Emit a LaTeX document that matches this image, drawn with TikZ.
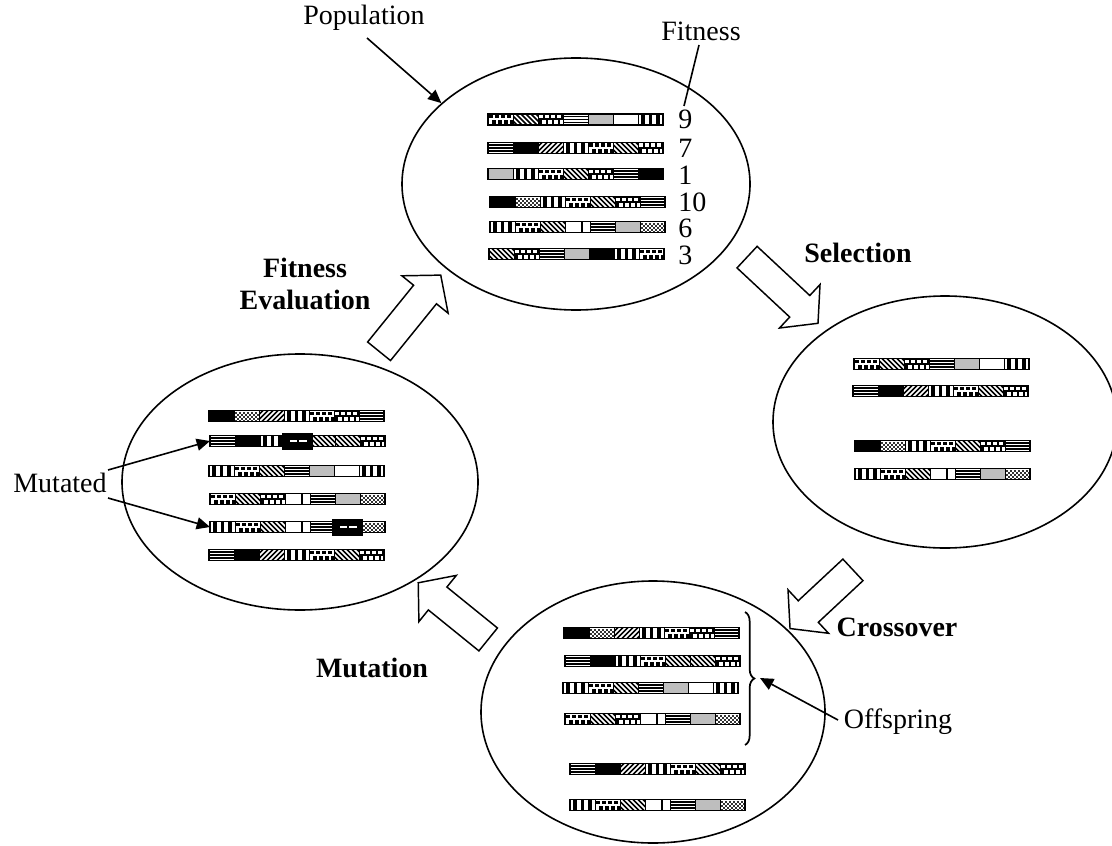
\documentclass[tikz,border=0pt]{standalone}
\usepackage{fontspec}
\setmainfont{Liberation Serif}
\usetikzlibrary{shapes.geometric,shapes.arrows,arrows.meta,decorations.pathreplacing}
\definecolor{segGray}{RGB}{190,190,190}
% segment drawings, local frame: x 0..25, y -5.5..5.5
\newcommand\segB{\fill[black] (0,-5.5) rectangle (25,5.5);}
\newcommand\segW{\fill[white] (0,-5.5) rectangle (25,5.5);}
\newcommand\segG{\fill[segGray] (0,-5.5) rectangle (25,5.5);}
\newcommand\segH{\fill[white] (0,-5.5) rectangle (25,5.5);
  \foreach \yy in {-3,0,3} \draw[line width=0.9pt] (0,\yy) -- (25,\yy);}
\newcommand\segV{\fill[white] (0,-5.5) rectangle (25,5.5);
  \foreach \xx in {3,10.5,18} \fill (\xx,-5.5) rectangle ++(3.5,11);}
\newcommand\segD{\fill[white] (0,-5.5) rectangle (25,5.5);
  \begin{scope}\clip (0,-5.5) rectangle (25,5.5);
  \foreach \xx in {-12,-7,...,28} \draw[line width=1.3pt] (\xx,-5.5) -- ++(11,11);
  \end{scope}}
\newcommand\segE{\fill[white] (0,-5.5) rectangle (25,5.5);
  \begin{scope}\clip (0,-5.5) rectangle (25,5.5);
  \foreach \xx in {-12,-7,...,28} \draw[line width=1.3pt] (\xx,5.5) -- ++(11,-11);
  \end{scope}}
\newcommand\segA{\fill[white] (0,-5.5) rectangle (25,5.5);
  \foreach \xx in {1,7,13,19} {\fill (\xx,-4.5) rectangle ++(3.5,3.5); \fill ({\xx+3},1) rectangle ++(3.5,3.5);}}
\newcommand\segP{\fill[black] (0,-5.5) rectangle (25,5.5);
  \foreach \xx in {1,7,13,19} {\fill[white] (\xx,-4.5) rectangle ++(3.5,3.5); \fill[white] ({\xx+3},1) rectangle ++(3.5,3.5);}}
\newcommand\segC{\fill[white] (0,-5.5) rectangle (25,5.5);
  \foreach \ii in {0,4,...,20} {\foreach \jj in {-4.5,-0.5,3.5} \fill[black!80] (\ii+1,\jj) rectangle ++(2,2);}
  \foreach \ii in {2,6,...,22} {\foreach \jj in {-2.5,1.5} \fill[black!80] (\ii+1,\jj) rectangle ++(2,2);}}
\newcommand\segN{\fill[white] (0,-5.5) rectangle (25,5.5); \fill (16,-5.5) rectangle ++(2.2,11);}
% chromosome: name, left x, centre y, list of segments
\newcommand\chrom[4]{%
  \node[chromnode] (#1) at (#2,#3) {};
  \foreach \t [count=\k from 0] in {#4} {
    \begin{scope}[shift={({#2+\k*25},#3)}]
      \csname seg\t\endcsname
      \draw[line width=0.6pt] (0,-5.5) rectangle (25,5.5);
    \end{scope}}
  \draw[line width=1.1pt] ({#2},{#3-5.5}) rectangle ++(175,11);}
% mutation marker over a segment starting at x, centre y
\newcommand\mutbox[2]{%
  \fill[black] ({#1-3},{#2-8.5}) rectangle ++(31,17);
  \fill[white] ({#1+5},{#2-0.8}) rectangle ++(7,1.6);
  \fill[white] ({#1+14},{#2-0.8}) rectangle ++(8,1.6);}
\begin{document}
\begin{tikzpicture}[x=0.75pt,y=-0.75pt,
  lbl/.style={font=\fontsize{21}{24}\selectfont, inner sep=0pt},
  blbl/.style={font=\fontsize{21}{24}\selectfont\bfseries, inner sep=0pt, align=center},
  numlbl/.style={font=\fontsize{21}{23}\selectfont, inner sep=0pt, anchor=west},
  chromnode/.style={anchor=west, minimum width=175*0.75pt, minimum height=11*0.75pt, inner sep=0pt},
  oval/.style={draw, ellipse, line width=1.2pt, inner sep=0pt},
  blockarrow/.style={draw, single arrow, line width=1.1pt, inner xsep=0pt, inner ysep=14*0.75pt,
    single arrow head extend=15*0.75pt, single arrow tip angle=100},
  arr/.style={line width=1.2pt, -{Triangle[length=10pt,width=9pt]}}]
\useasboundingbox (0,0) rectangle (1112,845);
% ellipses
\node[oval, minimum width=348*0.75pt, minimum height=252*0.75pt] (pop) at (576,184) {};
\node[oval, minimum width=344*0.75pt, minimum height=252*0.75pt] (sel) at (945,422) {};
\node[oval, minimum width=344*0.75pt, minimum height=262*0.75pt] (cro) at (653,712) {};
\node[oval, minimum width=356*0.75pt, minimum height=256*0.75pt] (mut) at (300,482) {};
% population
\chrom{p1}{488}{119.5}{A,D,P,H,G,W,V}
\chrom{p2}{488}{148}{H,B,E,V,A,D,P}
\chrom{p3}{488}{174}{G,V,A,D,P,H,B}
\chrom{p4}{490}{202}{B,C,V,A,D,P,H}
\chrom{p5}{490}{227}{V,A,D,N,H,G,C}
\chrom{p6}{489}{254}{D,P,H,G,B,V,A}
\node[numlbl] (n1) at (678,119.5) {9};
\node[numlbl] (n2) at (678,148) {7};
\node[numlbl] (n3) at (678,175) {1};
\node[numlbl] (n4) at (678,202) {10};
\node[numlbl] (n5) at (678,228.5) {6};
\node[numlbl] (n6) at (678,255) {3};
% selection
\chrom{s1}{854}{364}{A,D,P,H,G,W,V}
\chrom{s2}{853}{391}{H,B,E,V,A,D,P}
\chrom{s3}{855}{446}{B,C,V,A,D,P,H}
\chrom{s4}{855}{474}{V,A,D,N,H,G,C}
% crossover
\chrom{c1}{564}{633}{B,C,E,V,A,P,H}
\chrom{c2}{565}{661}{H,B,V,A,D,D,P}
\chrom{c3}{563}{688}{V,A,D,H,G,W,V}
\chrom{c4}{565}{719}{A,D,P,N,H,G,C}
\chrom{c5}{570}{769}{H,B,E,V,A,D,P}
\chrom{c6}{570}{805}{V,A,D,N,H,G,C}
% mutation
\chrom{m1}{209}{416}{B,C,E,V,A,P,H}
\chrom{m2}{210}{441}{H,B,V,W,D,D,P}
\mutbox{285}{441}
\chrom{m3}{209}{471}{V,A,D,H,G,W,V}
\chrom{m4}{210}{499}{A,D,P,N,H,G,C}
\chrom{m5}{210}{527}{V,A,D,N,H,W,C}
\mutbox{335}{527}
\chrom{m6}{209}{555}{H,B,E,V,A,D,P}
% block arrows
\node[blockarrow, minimum height=98*0.75pt, rotate=51] (a1) at (406,318) {};
\node[blockarrow, minimum height=97*0.75pt, rotate=-43] (a2) at (778,286) {};
\node[blockarrow, minimum height=86*0.75pt, rotate=-137] (a3) at (826,595) {};
\node[blockarrow, minimum height=90*0.75pt, rotate=141] (a4) at (458,615) {};
% labels
\node[lbl] (poplbl) at (364,18) {Population};
\node[lbl] (fitlbl) at (701,31) {Fitness};
\node[blbl] (evallbl) at (305,284) {Fitness\\Evaluation};
\node[blbl] (sellbl) at (858,253) {Selection};
\node[blbl] (crolbl) at (897,627) {Crossover};
\node[blbl] (mutationlbl) at (372,668) {Mutation};
\node[lbl] (mutlbl) at (60,483) {Mutated};
\node[lbl] (offlbl) at (898,722) {Offspring};
% connectors
\coordinate (popTail) at (367,38);
\draw[arr] (popTail) -- (pop.149);
\coordinate (fitTail) at (699,45);
\coordinate (fitHead) at (684,106);
\draw[line width=1.2pt] (fitTail) -- (fitHead);
\coordinate (mtA) at (108,470);
\coordinate (mtB) at (108,498);
\draw[arr] (mtA) -- (m2.west);
\draw[arr] (mtB) -- (m5.west);
\coordinate (brTop) at (745,612);
\coordinate (brBot) at (745,745);
\draw[line width=1.3pt, decorate, decoration={brace, amplitude=7pt}] (brTop) -- (brBot);
\coordinate (brTip) at (760,678);
\coordinate (offTail) at (838,720);
\draw[arr] (offTail) -- (brTip);
\end{tikzpicture}
\end{document}
